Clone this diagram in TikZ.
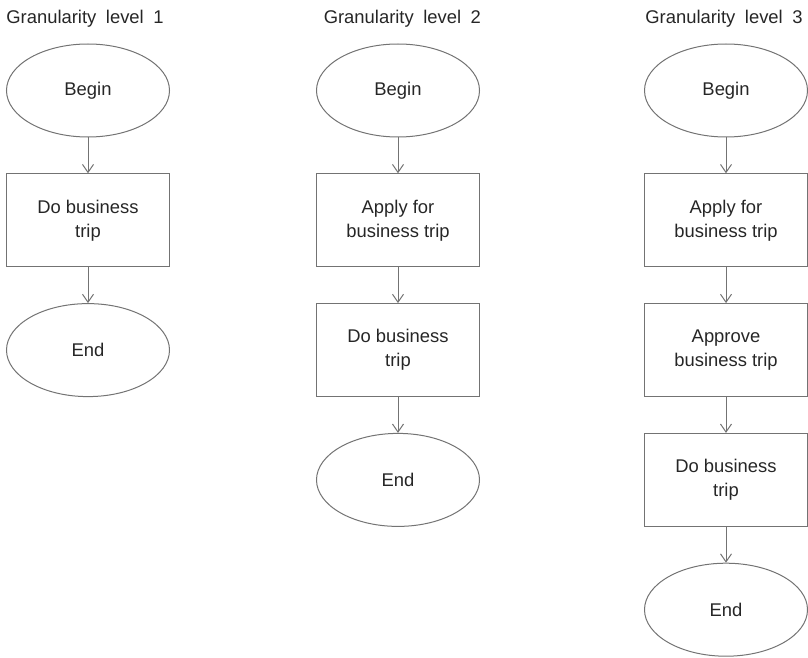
\documentclass[tikz,border=0pt]{standalone}
\usepackage{fontspec}
\setmainfont{Liberation Sans}
\usepackage{tikz}
\usetikzlibrary{shapes,positioning,arrows.meta}

\begin{document}
\begin{tikzpicture}[
      x=1pt, y=1pt, node distance=17.9pt,
      font=\fontsize{9.2}{12}\selectfont, text=black!85,
      >={Straight Barb[length=4pt,width=5.5pt]},
      title/.style={inner sep=0pt, anchor=base,
        font={\fontsize{9.2}{12}\selectfont\spaceskip=0.52em\relax}},
      state/.style={draw=black!55, line width=0.5pt, ellipse, inner sep=0pt,
        minimum width=81.5pt, minimum height=46.5pt},
      task/.style={draw=black!55, line width=0.5pt, rectangle, inner sep=0pt,
        align=center, minimum width=81.5pt, minimum height=46.5pt},
      flow/.style={draw=black!55, line width=0.5pt, ->}
      ]

      % Page du meme format que l'original.
      \path[use as bounding box] (0,0) rectangle (404,-329);

      % level 1
      \path node[title] (title1) at (42.5,-11.7) {Granularity level 1};
      \path node[state] (begin1) at (44,-45.25) {Begin};
      \path node[task,below=of begin1] (trip1) {Do business\\trip};
      \path[flow] (begin1) -- (trip1);
      \path node[state,below=of trip1] (end1) {End};
      \path[flow] (trip1) -- (end1);

      % level 2
      \path node[title] (title2) at (201.2,-11.7) {Granularity level 2};
      \path node[state] (begin2) at (199,-45.25) {Begin};
      \path node[task,below=of begin2] (apply2) {Apply for\\business trip};
      \path[flow] (begin2) -- (apply2);
      \path node[task,below=of apply2] (trip2) {Do business\\trip};
      \path[flow] (apply2) -- (trip2);
      \path node[state,below=of trip2] (end2) {End};
      \path[flow] (trip2) -- (end2);

      % level 3
      \path node[title] (title3) at (362,-11.7) {Granularity level 3};
      \path node[state] (begin3) at (363,-45.25) {Begin};
      \path node[task,below=of begin3] (apply3) {Apply for\\business trip};
      \path[flow] (begin3) -- (apply3);
      \path node[task,below=of apply3] (approve3) {Approve\\business trip};
      \path[flow] (apply3) -- (approve3);
      \path node[task,below=of approve3] (trip3) {Do business\\trip};
      \path[flow] (approve3) -- (trip3);
      \path node[state,below=of trip3] (end3) {End};
      \path[flow] (trip3) -- (end3);
    \end{tikzpicture}
\end{document}
